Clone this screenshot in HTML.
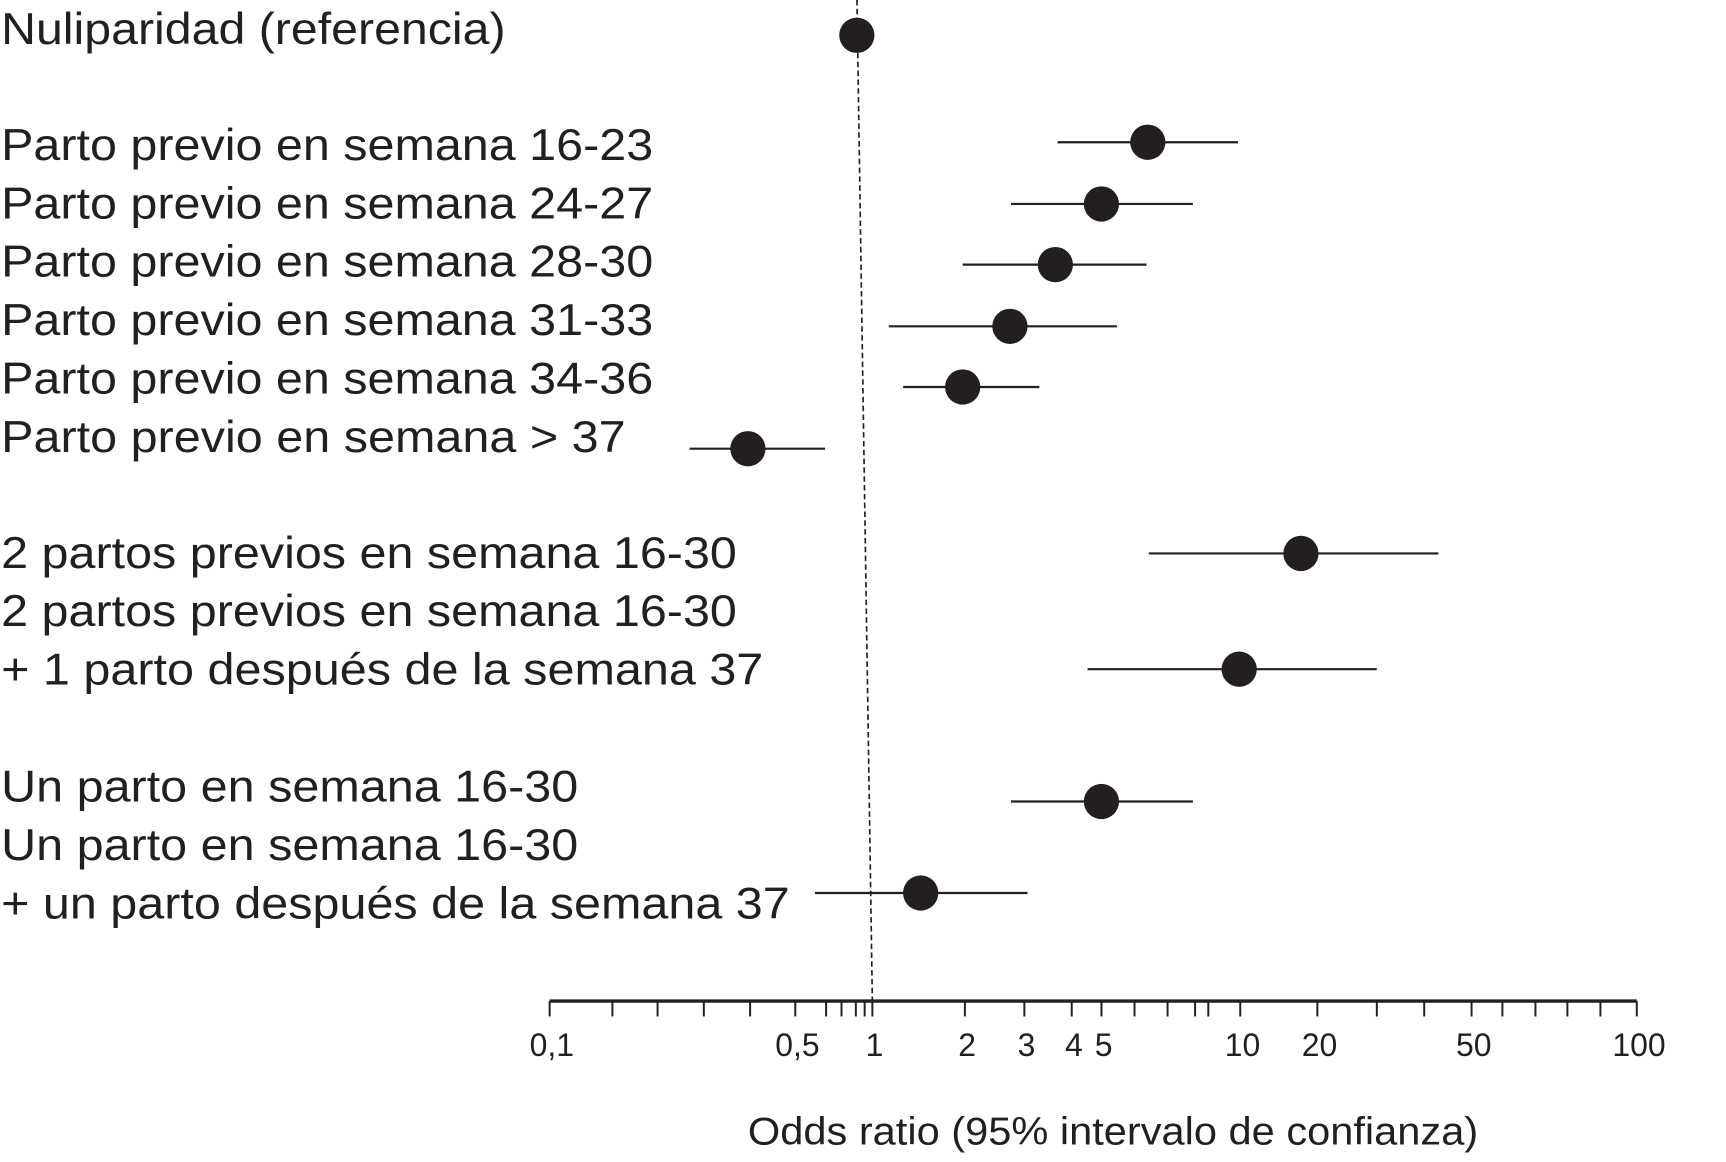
<!DOCTYPE html>
<html><head><meta charset="utf-8"><style>
html,body{margin:0;padding:0;background:#fff;}
svg{display:block;}
text{font-family:"Liberation Sans",Arial,sans-serif;fill:#231f20;}
</style></head><body>
<svg id="chart" width="1726" height="1162" viewBox="0 0 1567 1054" preserveAspectRatio="none" xmlns="http://www.w3.org/2000/svg">
<g id="labels"></g>
<g id="marks"></g>
<g id="axis"></g>
</svg>
<script>
const categories = ["Nuliparidad (referencia)","Parto previo en semana 16-23","Parto previo en semana 24-27","Parto previo en semana 28-30","Parto previo en semana 31-33","Parto previo en semana 34-36","Parto previo en semana > 37","2 partos previos en semana 16-30","2 partos previos en semana 16-30 + 1 parto después de la semana 37","Un parto en semana 16-30","Un parto en semana 16-30 + un parto después de la semana 37"];
const oddsRatio = [0.835, 6.45, 5.06, 3.67, 2.76, 2.0, 0.4, 17.6, 10.1, 5.06, 1.46];
const ciLow = [null, 3.72, 2.78, 2.0, 1.15, 1.28, 0.27, 6.48, 4.58, 2.78, 0.569];
const ciHigh = [null, 10.0, 8.0, 6.41, 5.51, 3.33, 0.607, 43.2, 30.4, 8.0, 3.10];
const tickValues = [0.1,0.15,0.2,0.3,0.4,0.5,0.6,0.7,0.8,0.9,1,2,3,4,5,6,7,8,9,10,20,30,40,50,60,70,80,90,100];
const tickLabels = ["0,1","0,5","1","2","3","4","5","10","20","50","100"];
const tickLabelValues = [0.1,0.5,1,2,3,4,5,10,20,50,100];

// axis function: hand-drawn axis calibrated on its tick marks (piecewise log-linear)
const axisPx = [497,554,595,637,679,720,748,762,775,783,790,874,928,971,998,1028,1058,1083,1095,1124,1194,1248,1291,1334,1362,1392,1421,1451,1484];
function xScale(v){
  const lv=Math.log(v);
  for(let i=0;i<tickValues.length-1;i++){
    const a=Math.log(tickValues[i]),b=Math.log(tickValues[i+1]);
    if(lv<=b||i===tickValues.length-2){
      return axisPx[i]+(lv-a)/(b-a)*(axisPx[i+1]-axisPx[i]);
    }
  }
}
const rowY=[32,129,185,240,296,351,407,502,607,727,810];
function yScale(i){return rowY[i];}

const NS="http://www.w3.org/2000/svg";
function mk(tag,attrs,parent){const e=document.createElementNS(NS,tag);for(const k in attrs)e.setAttribute(k,attrs[k]);parent.appendChild(e);return e;}

const labelsG=document.getElementById('labels');
const labelLines=[
 {t:"Nuliparidad (referencia)",y:40,w:458},
 {t:"Parto previo en semana 16-23",y:145,w:592},
 {t:"Parto previo en semana 24-27",y:198,w:592},
 {t:"Parto previo en semana 28-30",y:251,w:592},
 {t:"Parto previo en semana 31-33",y:304,w:592},
 {t:"Parto previo en semana 34-36",y:357,w:592},
 {t:"Parto previo en semana > 37",y:410,w:567},
 {t:"2 partos previos en semana 16-30",y:515,w:668},
 {t:"2 partos previos en semana 16-30",y:568,w:668},
 {t:"+ 1 parto después de la semana 37",y:621,w:692},
 {t:"Un parto en semana 16-30",y:727,w:524},
 {t:"Un parto en semana 16-30",y:780,w:524},
 {t:"+ un parto después de la semana 37",y:833,w:716}
];
labelLines.forEach(l=>{
  const e=mk('text',{x:1,y:l.y,'font-size':40,textLength:l.w,lengthAdjust:'spacingAndGlyphs'},labelsG);
  
  
  e.textContent=l.t;
});

const marks=document.getElementById('marks');
const ref=mk('line',{x1:778,y1:0,x2:792,y2:908,stroke:'#231f20','stroke-width':1.5,'stroke-dasharray':'5,3'},marks);



categories.forEach((c,i)=>{
  const y=yScale(i);
  if(ciLow[i]!==null){
    const l=mk('line',{x1:xScale(ciLow[i]),x2:xScale(ciHigh[i]),y1:y,y2:y,stroke:'#231f20','stroke-width':2},marks);
    
    
  }
  const d=mk('circle',{cx:xScale(oddsRatio[i]),cy:y,r:16,fill:'#231f20'},marks);
  
  
});

const axisG=document.getElementById('axis');
const al=mk('line',{x1:xScale(0.1)+2,x2:xScale(100)+2,y1:908,y2:908,stroke:'#231f20','stroke-width':3},axisG);


tickValues.forEach(v=>{
  const t=mk('line',{x1:xScale(v)+2,x2:xScale(v)+2,y1:908,y2:922,stroke:'#231f20','stroke-width':1.8},axisG);
  
  
});
tickLabelValues.forEach((v,i)=>{
  const t=mk('text',{x:xScale(v)+4,y:958,'font-size':29,'text-anchor':'middle'},axisG);
  
  
  t.textContent=tickLabels[i];
});
const title=mk('text',{x:679,y:1038,'font-size':35,textLength:663,lengthAdjust:'spacingAndGlyphs'},axisG);


title.textContent="Odds ratio (95% intervalo de confianza)";
</script>
</body></html>
